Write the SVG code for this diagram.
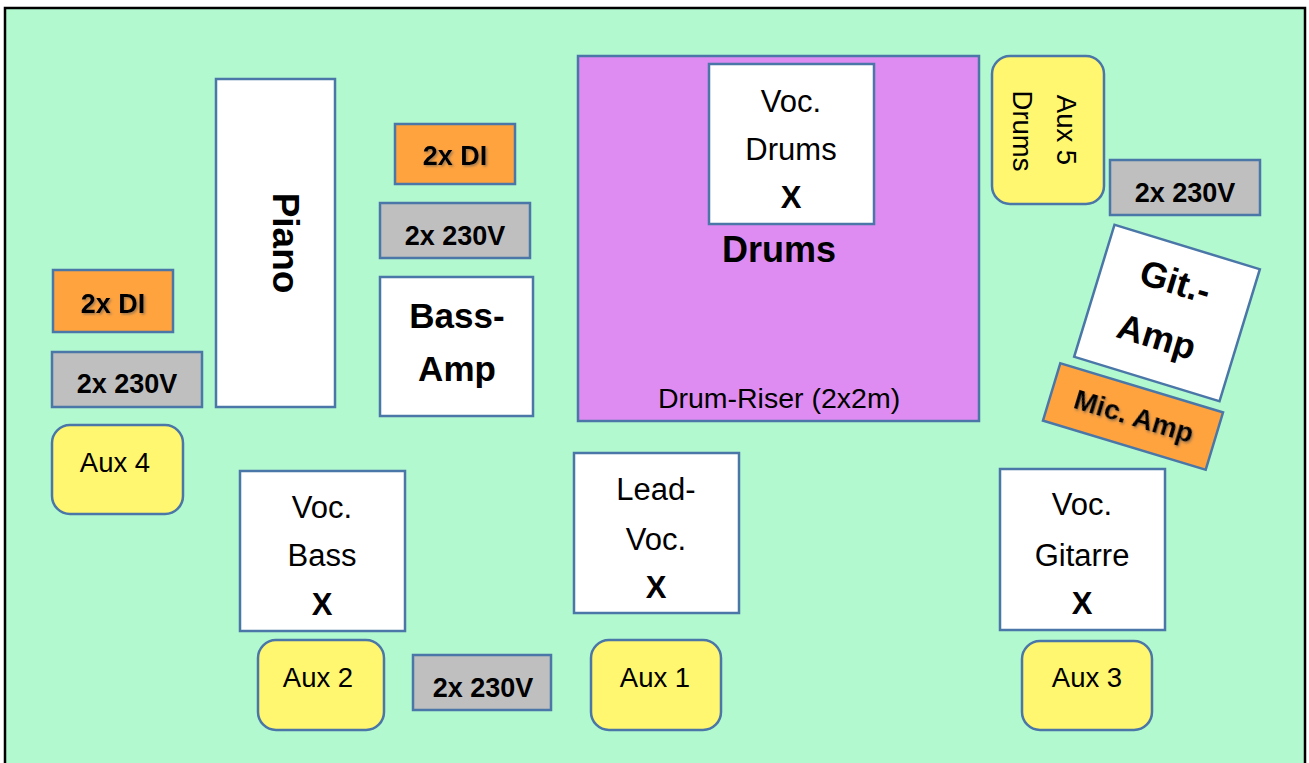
<svg xmlns="http://www.w3.org/2000/svg" width="1309" height="763" viewBox="0 0 1309 763">
<defs>
<style>
.box{stroke:#4A76A8;stroke-width:2.5}
.w{fill:#FFFFFF}
.o{fill:#FFA33F}
.g{fill:#BFBFBF}
.y{fill:#FFF76F}
.p{fill:#DE8CF2}
text{font-family:"Liberation Sans",Arial,sans-serif;fill:#000;text-anchor:middle}
.n{font-size:31px}
.b{font-weight:bold}
.sm{font-size:27.5px}
.pw{font-size:27px;font-weight:bold}
.sh{filter:url(#shadow)}
</style>
<filter id="shadow" x="-10%" y="-30%" width="130%" height="170%">
<feDropShadow dx="1.5" dy="1.5" stdDeviation="0.8" flood-color="#555" flood-opacity="0.55"/>
</filter>
</defs>
<rect x="0" y="0" width="1309" height="763" fill="#FFFFFF"/>
<rect id="stage" x="5" y="8" width="1300" height="800" fill="#B3F9D0" stroke="#000" stroke-width="2.5"/>

<g id="drum-riser">
<rect class="box p" x="578" y="56" width="401" height="365"/>
<text x="779" y="262" class="b" font-size="36">Drums</text>
<text x="779" y="408" font-size="28.5">Drum-Riser (2x2m)</text>
</g>
<g id="voc-drums">
<rect class="box w" x="709" y="64" width="165" height="160"/>
<text x="791" y="112" class="n">Voc.</text>
<text x="791" y="160" class="n">Drums</text>
<text x="791" y="208" class="n b">X</text>
</g>

<g id="piano">
<rect class="box w" x="216" y="79" width="119" height="328"/>
<text transform="translate(273,243) rotate(90)" font-size="37" class="b">Piano</text>
</g>

<g id="di-top">
<rect class="box o" x="395" y="124" width="120" height="60"/>
<text x="455" y="165" class="pw sh">2x DI</text>
</g>
<g id="power-top">
<rect class="box g" x="380" y="203" width="150" height="55"/>
<text x="455" y="245" class="pw">2x 230V</text>
</g>
<g id="bass-amp">
<rect class="box w" x="380" y="277" width="153" height="139"/>
<text x="457" y="328" font-size="35" class="b">Bass-</text>
<text x="457" y="381" font-size="35" class="b">Amp</text>
</g>

<g id="di-left">
<rect class="box o" x="53" y="270" width="120" height="62"/>
<text x="113" y="313" class="pw sh">2x DI</text>
</g>
<g id="power-left">
<rect class="box g" x="52" y="352" width="150" height="55"/>
<text x="127" y="393" class="pw">2x 230V</text>
</g>
<g id="aux4">
<rect class="box y" x="52" y="425" width="131" height="89" rx="18"/>
<text x="115" y="472" class="sm">Aux 4</text>
</g>

<g id="aux5">
<rect class="box y" x="992" y="56" width="112" height="148" rx="18"/>
<text transform="translate(1057,130) rotate(90)" class="sm">Aux 5</text>
<text transform="translate(1013,131) rotate(90)" class="sm">Drums</text>
</g>
<g id="power-right">
<rect class="box g" x="1110" y="160" width="150" height="55"/>
<text x="1185" y="202" class="pw">2x 230V</text>
</g>
<g id="git-amp" transform="translate(1167,313) rotate(17)">
<rect class="box w" x="-76" y="-69" width="152" height="138"/>
<text x="-1" y="-20" font-size="36" class="b">Git.-</text>
<text x="-3" y="38" font-size="36" class="b">Amp</text>
</g>
<g id="mic-amp" transform="translate(1133,416.5) rotate(16.8)">
<rect class="box o" x="-85" y="-30" width="170" height="60"/>
<text x="1" y="9" font-size="28" class="b sh">Mic. Amp</text>
</g>

<g id="voc-bass">
<rect class="box w" x="240" y="471" width="165" height="160"/>
<text x="322" y="518" class="n">Voc.</text>
<text x="322" y="566" class="n">Bass</text>
<text x="322" y="615" class="n b">X</text>
</g>
<g id="lead-voc">
<rect class="box w" x="574" y="453" width="165" height="160"/>
<text x="656" y="500" class="n">Lead-</text>
<text x="656" y="550" class="n">Voc.</text>
<text x="656" y="598" class="n b">X</text>
</g>
<g id="voc-gitarre">
<rect class="box w" x="1000" y="469" width="165" height="161"/>
<text x="1082" y="515" class="n">Voc.</text>
<text x="1082" y="566" class="n">Gitarre</text>
<text x="1082" y="614" class="n b">X</text>
</g>

<g id="aux2">
<rect class="box y" x="258" y="640" width="126" height="90" rx="18"/>
<text x="318" y="687" class="sm">Aux 2</text>
</g>
<g id="power-bottom">
<rect class="box g" x="413" y="655" width="138" height="55"/>
<text x="483" y="697" class="pw">2x 230V</text>
</g>
<g id="aux1">
<rect class="box y" x="591" y="640" width="130" height="90" rx="18"/>
<text x="655" y="687" class="sm">Aux 1</text>
</g>
<g id="aux3">
<rect class="box y" x="1022" y="641" width="130" height="89" rx="18"/>
<text x="1087" y="687" class="sm">Aux 3</text>
</g>

<g id="connectors"/>
</svg>
